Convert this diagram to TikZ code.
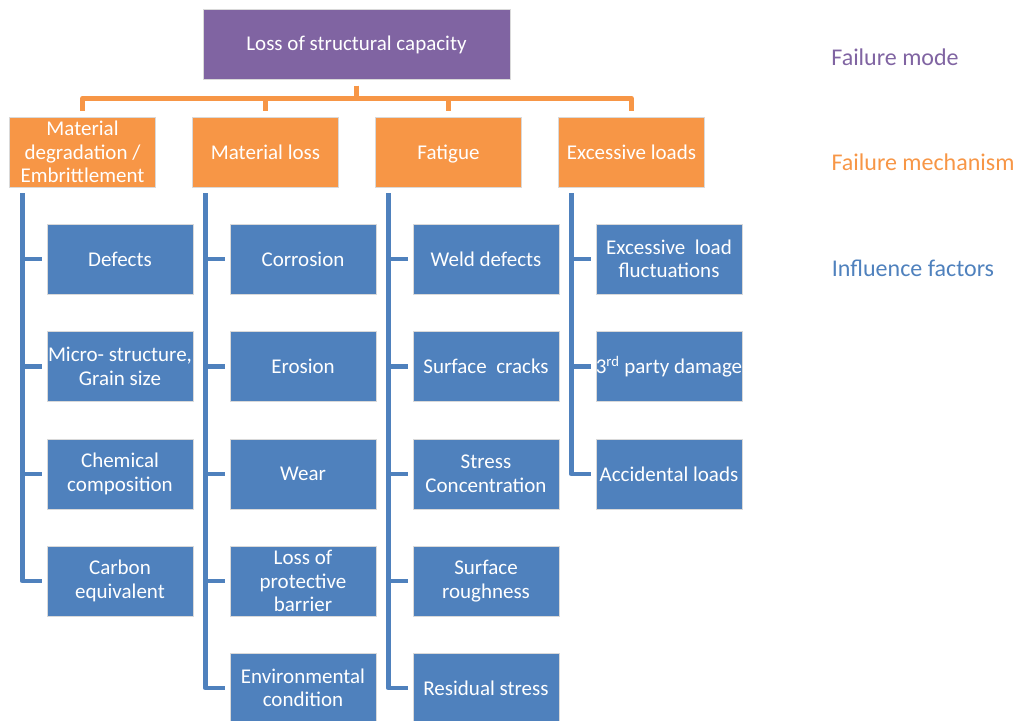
\documentclass[tikz,border=0pt]{standalone}
\usepackage{fontspec}
\setmainfont{Carlito}
\usetikzlibrary{calc}
\definecolor{cpurple}{HTML}{8064A2}
\definecolor{corange}{HTML}{F79646}
\definecolor{cblue}{HTML}{4F81BD}
\begin{document}
\begin{tikzpicture}[x=1pt,y=-1pt,
  boxbase/.style={rectangle, text=white, align=center, inner sep=0pt,
    font=\fontsize{21}{23.5}\selectfont, draw=white!85!black, line width=0.5pt},
  modebox/.style={boxbase, fill=cpurple, minimum width=307pt, minimum height=70pt},
  mechbox/.style={boxbase, fill=corange, minimum width=146pt, minimum height=70pt},
  factbox/.style={boxbase, fill=cblue, minimum width=146pt, minimum height=70pt},
  oline/.style={draw=corange, line width=4.8pt, line join=round},
  bline/.style={draw=cblue, line width=4.8pt, line join=round},
  sidelabel/.style={font=\fontsize{24}{28}\selectfont, inner sep=0pt}
]
\useasboundingbox (0,0) rectangle (1016,720);

% failure mode
\node[modebox] (top) at (356.5,44.5) {Loss of structural capacity};

% mechanisms
\node[mechbox] (m1) at (82.5,152) {Material\\degradation /\\Embrittlement};
\node[mechbox] (m2) at (265.5,152) {Material loss};
\node[mechbox] (m3) at (448.5,152) {\raisebox{0pt}[\height][0pt]{Fatigue}};
\node[mechbox] (m4) at (631.5,152) {Excessive loads};

% orange connectors
\foreach \m in {m1,m2,m3,m4}{
  \draw[oline, shorten <=6pt, shorten >=6pt] (top.south) -- ++(0,18.5) -| (\m.north);
}

% factors column 1
\node[factbox] (f11) at (120,259) {Defects};
\node[factbox] (f12) at (120,366.5) {Micro- structure,\\Grain size};
\node[factbox] (f13) at (120,474) {Chemical\\composition};
\node[factbox] (f14) at (120,581) {Carbon\\equivalent};

% column 2
\node[factbox] (f21) at (303,259) {Corrosion};
\node[factbox] (f22) at (303,366.5) {Erosion};
\node[factbox] (f23) at (303,474) {Wear};
\node[factbox] (f24) at (303,581) {Loss of\\protective\\barrier};
\node[factbox] (f25) at (303,688) {Environmental\\condition};

% column 3
\node[factbox] (f31) at (486,259) {Weld defects};
\node[factbox] (f32) at (486,366.5) {Surface\ \ cracks};
\node[factbox] (f33) at (486,474) {Stress\\Concentration};
\node[factbox] (f34) at (486,581) {Surface\\roughness};
\node[factbox] (f35) at (486,688) {Residual stress};

% column 4
\node[factbox] (f41) at (669,259) {Excessive\ \ load\\fluctuations};
\node[factbox] (f42) at (669,366.5) {3\textsuperscript{rd} party damage};
\node[factbox] (f43) at (669,474) {Accidental loads};

% blue connectors
\coordinate (c1) at ($(m1.south west)+(13,6)$);
\coordinate (c2) at ($(m2.south west)+(13,6)$);
\coordinate (c3) at ($(m3.south west)+(13,6)$);
\coordinate (c4) at ($(m4.south west)+(13,6)$);

\draw[bline] (c1) |- ([xshift=-5pt]f14.west);
\foreach \f in {f11,f12,f13} \draw[bline] (c1 |- \f.west) -- ([xshift=-5pt]\f.west);

\draw[bline] (c2) |- ([xshift=-5pt]f25.west);
\foreach \f in {f21,f22,f23,f24} \draw[bline] (c2 |- \f.west) -- ([xshift=-5pt]\f.west);

\draw[bline] (c3) |- ([xshift=-5pt]f35.west);
\foreach \f in {f31,f32,f33,f34} \draw[bline] (c3 |- \f.west) -- ([xshift=-5pt]\f.west);

\draw[bline] (c4) |- ([xshift=-5pt]f43.west);
\foreach \f in {f41,f42} \draw[bline] (c4 |- \f.west) -- ([xshift=-5pt]\f.west);

% side labels
\node[sidelabel, text=cpurple] (lmode) at (895,57) {Failure mode};
\node[sidelabel, text=corange] (lmech) at (923,162) {Failure mechanism};
\node[sidelabel, text=cblue] (linf) at (913,268) {Influence factors};
\end{tikzpicture}
\end{document}
